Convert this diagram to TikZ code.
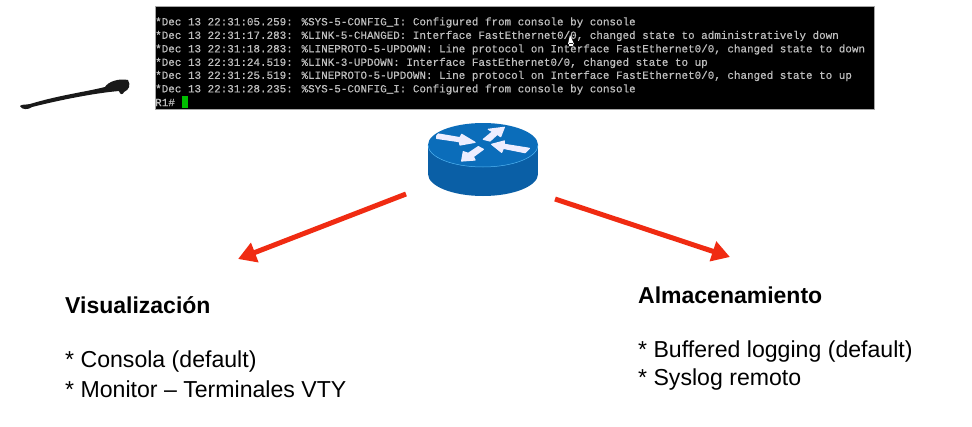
\documentclass[tikz,border=0pt]{standalone}
\usepackage{fontspec}
\setmainfont{Liberation Sans}
\newfontfamily\termfont[FakeBold=0.5]{Liberation Mono}
\definecolor{termtxt}{HTML}{BEBEBE}
\definecolor{rtop}{HTML}{0B6DBA}
\definecolor{rdark}{HTML}{0A5FA6}
\definecolor{rlight}{HTML}{0894EC}
\definecolor{redarrow}{HTML}{F02B12}
\usetikzlibrary{arrows.meta}
\tikzset{
  termline/.style={anchor=west,inner sep=0pt,text=termtxt,font=\termfont\fontsize{10.92}{12}\selectfont},
  heading/.style={anchor=west,inner sep=0pt,text=black,font=\fontsize{23}{27}\selectfont\bfseries},
  item/.style={anchor=west,inner sep=0pt,text=black,font=\fontsize{23.1}{27}\selectfont},
  flow/.style={draw=redarrow,line width=5pt,-{Triangle[length=18pt,width=20pt]}},
  routerarrow/.style={fill=white!93!blue,draw=white!93!blue,line width=1.2pt,line join=round},
}
\begin{document}
\begin{tikzpicture}[x=1pt,y=-1pt]
\useasboundingbox (0,0) rectangle (972,426);
\fill[white] (0,0) rectangle (972,426);
% terminal
\node[draw=black!35,line width=0.6pt,fill=black,minimum width=719pt,minimum height=103pt,inner sep=0pt,anchor=north west] (term) at (155,6) {};
\node[termline] (l1) at (155,22.5) {*Dec 13 22:31:05.259: \%SYS-5-CONFIG\_I: Configured from console by console};
\node[termline] (l2) at (155,36) {*Dec 13 22:31:17.283: \%LINK-5-CHANGED: Interface FastEthernet0/0, changed state to administratively down};
\node[termline] (l3) at (155,49.5) {*Dec 13 22:31:18.283: \%LINEPROTO-5-UPDOWN: Line protocol on Interface FastEthernet0/0, changed state to down};
\node[termline] (l4) at (155,63) {*Dec 13 22:31:24.519: \%LINK-3-UPDOWN: Interface FastEthernet0/0, changed state to up};
\node[termline] (l5) at (155,76) {*Dec 13 22:31:25.519: \%LINEPROTO-5-UPDOWN: Line protocol on Interface FastEthernet0/0, changed state to up};
\node[termline] (l6) at (155,89.5) {*Dec 13 22:31:28.235: \%SYS-5-CONFIG\_I: Configured from console by console};
\node[termline] (l7) at (155,102.5) {R1\#};
\fill[green!75!black] (182,96) rectangle (188,108);
% mouse pointer
\fill[white] (570,35) -- (574,44) -- (568,44) -- cycle (569,43) rectangle (573,46);
% scribble
\fill[black!90] (20,106) .. controls (22,104) and (26,105) .. (30,104)
  .. controls (60,95) and (85,92) .. (105,87)
  .. controls (108,82) and (118,78) .. (128,80)
  .. controls (131,85) and (129,90) .. (124,92)
  .. controls (123,95) and (120,95) .. (119,91)
  .. controls (95,93) and (60,100) .. (32,107)
  .. controls (28,110) and (22,110) .. (20,106) -- cycle;
% router
\path[left color=rdark,middle color=rlight,right color=rdark]
  (428,145) -- (428,174) arc[start angle=180,end angle=0,x radius=55,y radius=22] -- (538,145) -- cycle;
\fill[rtop] (483,145) ellipse[x radius=55,y radius=22];
\draw[rlight!70!white,line width=0.5pt] (428,145) arc[start angle=180,end angle=0,x radius=55,y radius=22];
\begin{scope}[shift={(410,110)},x=0.3333pt,y=-0.3333pt]
\fill[routerarrow] (80,78) -- (85,72) -- (150,83) -- (155,73) -- (195,97) -- (150,105) -- (148,95) -- (80,85) -- cycle;
\fill[routerarrow] (283,52) -- (235,58) -- (248,65) -- (220,88) -- (240,93) -- (262,73) -- (272,80) -- cycle;
\fill[routerarrow] (245,103) -- (283,93) -- (283,103) -- (358,115) -- (345,128) -- (280,115) -- (275,127) -- cycle;
\fill[routerarrow] (155,153) -- (160,125) -- (175,130) -- (205,110) -- (220,118) -- (190,140) -- (195,150) -- cycle;
\end{scope}
\coordinate (leftstart) at (406,194);
\coordinate (leftend) at (238,259);
\coordinate (rightstart) at (555,199);
\coordinate (rightend) at (730,257);
\draw[flow] (leftstart) -- (leftend);
\draw[flow] (rightstart) -- (rightend);
% texts
\node[heading] (vh) at (65,305) {Visualización};
\node[item] (v1) at (65,361.5) {* Consola (default)};
\node[item] (v2) at (65,389) {* Monitor – Terminales VTY};
\node[heading] (ah) at (638,295) {Almacenamiento};
\node[item] (a1) at (638,351.5) {* Buffered logging (default)};
\node[item] (a2) at (638,380) {* Syslog remoto};
\end{tikzpicture}
\end{document}
